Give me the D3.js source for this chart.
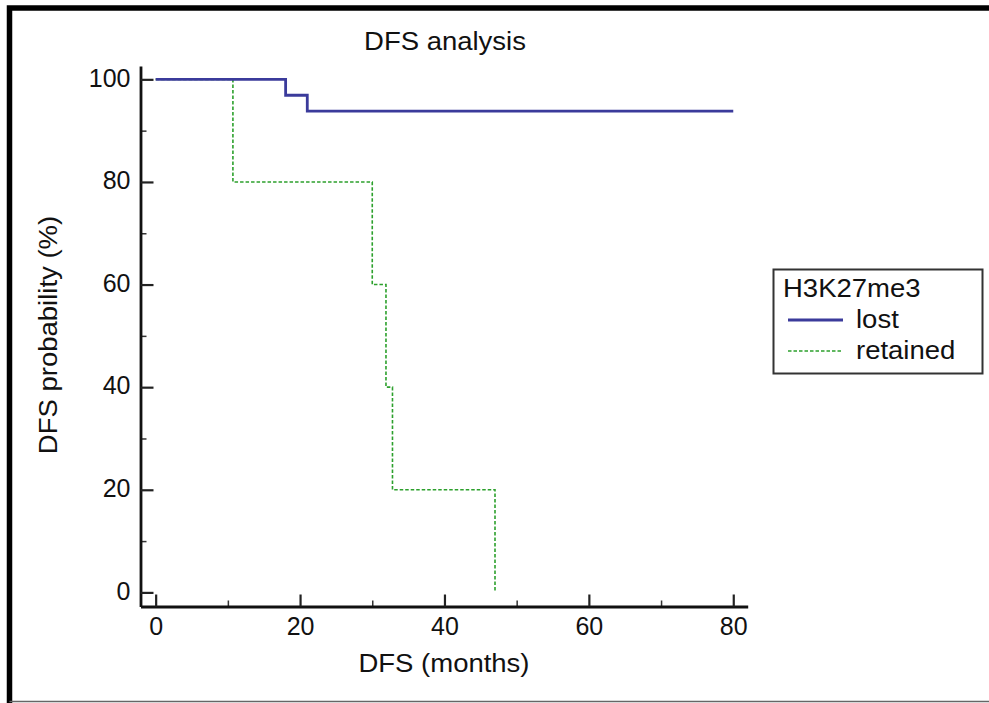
<!DOCTYPE html>
<html>
<head>
<meta charset="utf-8">
<script src="https://cdn.jsdelivr.net/npm/d3@7"></script>
<style>
  body { margin: 0; background: #fff; }
  svg text { font-family: "Liberation Sans", Arial, sans-serif; fill: #111; }
</style>
</head>
<body>
<svg id="chart"></svg>
<script>
document.addEventListener('DOMContentLoaded', () => {
    const W = 989, H = 703;

    // survival steps: [months, probability %]
    const lostSteps = [[0, 100], [18, 96.9], [21, 93.8], [80, 93.8]];
    const retainedSteps = [[0, 100], [10.7, 80], [30, 60], [31.9, 40], [32.8, 20], [47, 0]];
    const xMajorTicks = [0, 20, 40, 60, 80];
    const xMinorTicks = [10, 30, 50, 70];
    const yMajorTicks = [0, 20, 40, 60, 80, 100];
    const yMinorTicks = [10, 30, 50, 70, 90];
    const legendItems = [
        { label: "lost", color: "#3b3b9b", width: 2.8, dash: null },
        { label: "retained", color: "#2ca02c", width: 1.6, dash: "3.5,2" }
    ];

    const svg = d3.select("#chart").attr("width", W).attr("height", H);

    // frame round the figure
    svg.append("path")
        .attr("d", `M9.5,${H} V8 H${W}`)
        .attr("fill", "none")
        .attr("stroke", "#000")
        .attr("stroke-width", 5.5);
    svg.append("line")
        .attr("x1", 9.5).attr("x2", W).attr("y1", 701.5).attr("y2", 701.5)
        .attr("stroke", "#666").attr("stroke-width", 1.5);

    const x = d3.scaleLinear().domain([-2.1, 82]).range([140.5, 747.7]);
    const y = d3.scaleLinear().domain([-2.75, 102.6]).range([606.5, 66]);

    const fs = 25;      // tick labels
    const fsLabel = 25; // titles and legend, stretched a bit wider
    const stretch = 1.1;

    const addText = (g, px, py, str, anchor, rot) => {
        g.append("text")
            .attr("transform", `translate(${px},${py})` + (rot ? ` rotate(${rot})` : "") + ` scale(${stretch},1)`)
            .attr("text-anchor", anchor)
            .style("font-size", fsLabel + "px")
            .text(str);
    };

    // x axis: ticks point inward (up)
    const gx = svg.append("g").attr("transform", `translate(0,${y.range()[0]})`);
    gx.call(d3.axisBottom(x).tickValues(xMinorTicks).tickSize(-6).tickFormat("").tickSizeOuter(0));
    gx.selectAll(".tick line").attr("stroke", "#333").attr("stroke-width", 1.5);
    gx.select(".domain").remove();
    const gx2 = svg.append("g").attr("transform", `translate(0,${y.range()[0]})`);
    gx2.call(d3.axisBottom(x).tickValues(xMajorTicks).tickSize(-12).tickPadding(11).tickSizeOuter(0));
    gx2.selectAll(".tick line").attr("stroke", "#222").attr("stroke-width", 2.2);
    gx2.selectAll(".tick text").style("font-size", fs + "px").attr("fill", "#111");
    gx2.select(".domain").attr("stroke", "#111").attr("stroke-width", 2.8);

    // y axis: ticks point inward (right)
    const gy = svg.append("g").attr("transform", `translate(${x.range()[0]},0)`);
    gy.call(d3.axisLeft(y).tickValues(yMinorTicks).tickSize(-6).tickFormat("").tickSizeOuter(0));
    gy.selectAll(".tick line").attr("stroke", "#333").attr("stroke-width", 1.5);
    gy.select(".domain").remove();
    const gy2 = svg.append("g").attr("transform", `translate(${x.range()[0]},0)`);
    gy2.call(d3.axisLeft(y).tickValues(yMajorTicks).tickSize(-13).tickPadding(10).tickSizeOuter(0));
    gy2.selectAll(".tick line").attr("stroke", "#222").attr("stroke-width", 2.2);
    gy2.selectAll(".tick text").style("font-size", fs + "px").attr("fill", "#111").attr("dy", "0.27em");
    gy2.select(".domain").attr("stroke", "#111").attr("stroke-width", 2.8);

    // curves
    const line = d3.line().x(d => x(d[0])).y(d => y(d[1])).curve(d3.curveStepAfter);
    svg.append("path")
        .datum(retainedSteps)
        .attr("d", line)
        .attr("fill", "none")
        .attr("stroke", legendItems[1].color)
        .attr("stroke-width", legendItems[1].width)
        .attr("stroke-dasharray", legendItems[1].dash);
    svg.append("path")
        .datum(lostSteps)
        .attr("d", line)
        .attr("fill", "none")
        .attr("stroke", legendItems[0].color)
        .attr("stroke-width", legendItems[0].width);

    // titles
    addText(svg, 445, 50, "DFS analysis", "middle");
    addText(svg, 444, 672, "DFS (months)", "middle");
    addText(svg, 57, 335, "DFS probability (%)", "middle", -90);

    // legend
    const lg = svg.append("g");
    lg.append("rect")
        .attr("x", 773.5).attr("y", 269.5).attr("width", 209).attr("height", 104)
        .attr("fill", "#fff").attr("stroke", "#333").attr("stroke-width", 2);
    addText(lg, 783, 297, "H3K27me3", "start");
    legendItems.forEach((d, i) => {
        const yy = 320 + i * 31;
        lg.append("line")
            .attr("x1", 788).attr("x2", 843).attr("y1", yy).attr("y2", yy)
            .attr("stroke", d.color).attr("stroke-width", d.width)
            .attr("stroke-dasharray", d.dash);
        addText(lg, 856, yy + 8, d.label, "start");
    });
});
</script>
</body>
</html>
